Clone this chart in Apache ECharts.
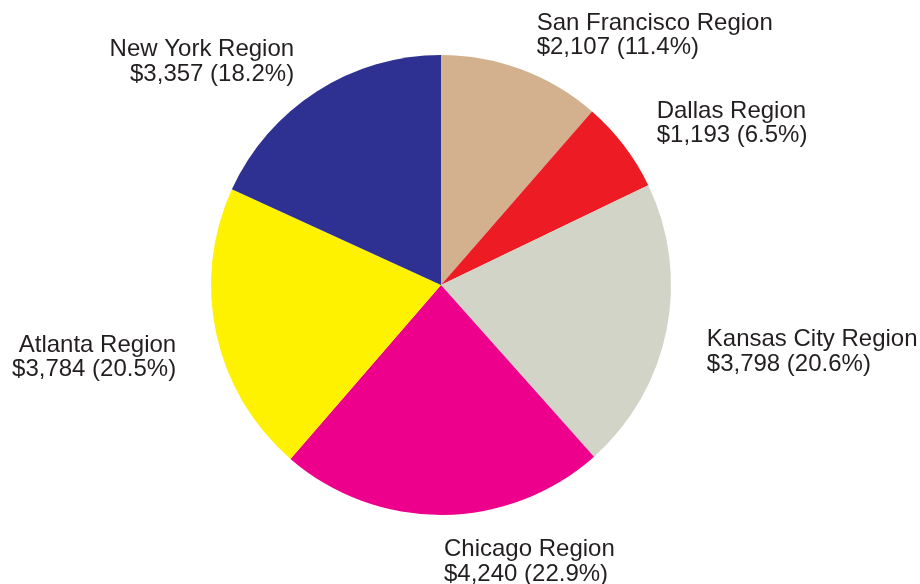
<!DOCTYPE html>
<html>
<head>
<meta charset="utf-8">
<title>Regional totals</title>
<script src="https://cdn.jsdelivr.net/npm/echarts@6/dist/echarts.min.js"></script>
<style>
  html, body { margin: 0; padding: 0; background: #ffffff; }
  #chart { width: 920px; height: 584px; }
</style>
</head>
<body>
<div id="chart"></div>
<script>
// Regions, in clockwise order starting from twelve o'clock
const regions = [
  'San Francisco Region',
  'Dallas Region',
  'Kansas City Region',
  'Chicago Region',
  'Atlanta Region',
  'New York Region'
];
const amounts = [2107, 1193, 3798, 4240, 3784, 3357];
const sliceColors = ['#D3B18F', '#ED1C24', '#D1D4C6', '#EC008C', '#FFF200', '#2E3192'];

const total = amounts.reduce((a, b) => a + b, 0);

function money(v) {
  return '$' + v.toLocaleString('en-US');
}

// Small vertical nudges applied to each outside label
const labelNudge = [3, 2, 14, 7, 15, 4];

const chart = echarts.init(document.getElementById('chart'), null, { renderer: 'canvas' });

chart.setOption({
  animation: false,
  backgroundColor: '#ffffff',
  series: [{
    type: 'pie',
    center: [441, 285],
    radius: 230,
    startAngle: 90,
    clockwise: true,
    avoidLabelOverlap: false,
    silent: true,
    data: regions.map((name, i) => ({
      name: name,
      value: amounts[i],
      itemStyle: { color: sliceColors[i] }
    })),
    itemStyle: { borderWidth: 0 },
    label: {
      show: true,
      position: 'outside',
      distanceToLabelLine: 1,
      fontFamily: 'Liberation Sans, Arial, sans-serif',
      fontSize: 24,
      lineHeight: 24.5,
      color: '#231F20',
      formatter: function (p) {
        const pct = (p.value / total * 100).toFixed(1);
        return p.name + '\n' + money(p.value) + ' (' + pct + '%)';
      }
    },
    labelLine: { show: false, length: 40, length2: 0 },
    labelLayout: function (params) {
      return { dy: labelNudge[params.dataIndex] || 0 };
    }
  }]
});
</script>
</body>
</html>
